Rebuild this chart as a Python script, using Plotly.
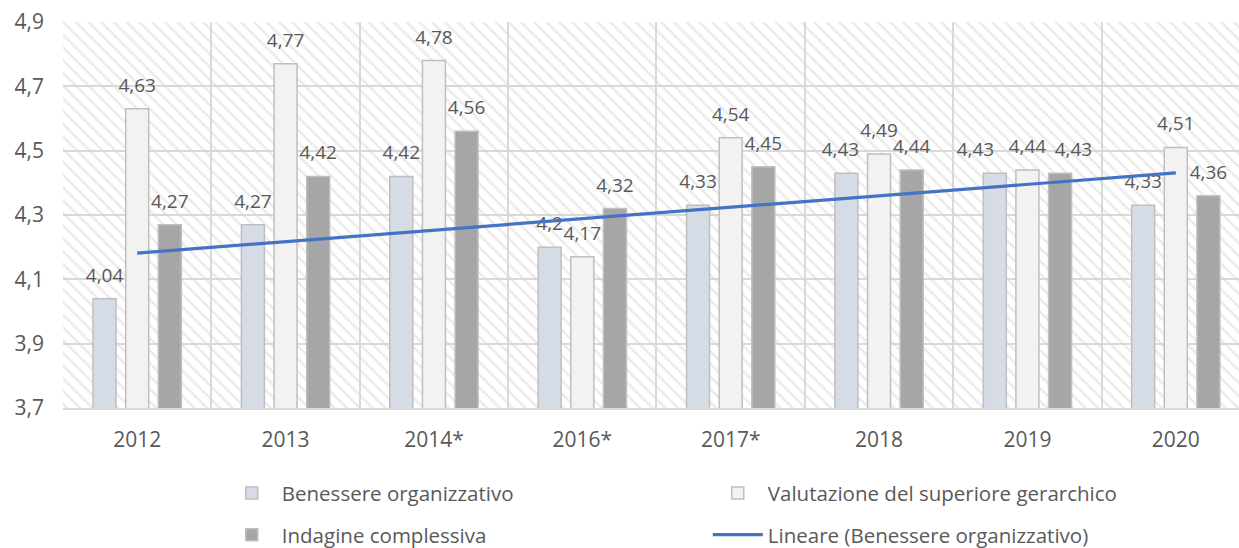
import numpy as np
import plotly.graph_objects as go

# ---------------- data ----------------
years = ["2012", "2013", "2014*", "2016*", "2017*", "2018", "2019", "2020"]
benessere = [4.04, 4.27, 4.42, 4.2, 4.33, 4.43, 4.43, 4.33]
valutazione = [4.63, 4.77, 4.78, 4.17, 4.54, 4.49, 4.44, 4.51]
indagine = [4.27, 4.42, 4.56, 4.32, 4.45, 4.44, 4.43, 4.36]
y_ticks = [3.7, 3.9, 4.1, 4.3, 4.5, 4.7, 4.9]

series_names = ["Benessere organizzativo", "Valutazione del superiore gerarchico", "Indagine complessiva"]
trend_name = "Lineare (Benessere organizzativo)"

# ---------------- style ----------------
FILLS = ["#d6dce5", "#f2f2f2", "#a6a6a6"]
OUTLINE = "#bfbfbf"
TEXT = "#595959"
GRID = "#d9d9d9"
TREND = "#4472c4"
FONT = "Open Sans"
BARGAP = 0.34
GROUPGAP = 0.295
# small horizontal nudges of crowded data labels (series index, category) -> fraction of a category
LABEL_NUDGE = {(0, "2019"): -0.13, (2, "2019"): 0.09, (0, "2018"): -0.04}


def it(v):
    return f"{v:g}".replace(".", ",")


xs = np.arange(len(years))
slot = (1 - BARGAP) / 3
offsets = [-slot, 0.0, slot]

fig = go.Figure()

# hatched plot-area background (on hidden base axes, below the data subplot)
fig.add_trace(go.Scatter(
    x=[0, 1, 1, 0, 0], y=[0, 0, 1, 1, 0], xaxis="x", yaxis="y",
    mode="none", fill="toself", fillcolor="rgba(0,0,0,0)",
    fillpattern=dict(shape="\\", fgcolor="#d6d6d6", bgcolor="rgba(0,0,0,0)", size=9, solidity=0.28),
    hoverinfo="skip", showlegend=False,
))

all_series = [benessere, valutazione, indagine]
legend_of = ["legend", "legend", "legend2"]
for i, vals in enumerate(all_series):
    fig.add_trace(go.Bar(
        x=xs, y=vals, name=series_names[i], xaxis="x2", yaxis="y2",
        marker=dict(color=FILLS[i], line=dict(color=OUTLINE, width=1.5)),
        legend=legend_of[i],
    ))

# data labels
for i, vals in enumerate(all_series):
    lx = [x + offsets[i] + LABEL_NUDGE.get((i, years[k]), 0.0) for k, x in enumerate(xs)]
    fig.add_trace(go.Scatter(
        x=lx, y=vals, xaxis="x2", yaxis="y2",
        mode="markers+text", text=[it(v) for v in vals], textposition="top center",
        textfont=dict(family=FONT, size=19, color=TEXT),
        marker=dict(size=18, color="rgba(0,0,0,0)"),
        showlegend=False, hoverinfo="skip", cliponaxis=False,
    ))

# linear trend of Benessere
coef = np.polyfit(xs, benessere, 1)
trend = np.polyval(coef, xs)
fig.add_trace(go.Scatter(
    x=xs, y=trend, xaxis="x2", yaxis="y2", mode="lines", name=trend_name,
    line=dict(color=TREND, width=3.2), legend="legend2",
))

legend_common = dict(
    orientation="h", xref="container", yref="container", x=0.179,
    xanchor="left", yanchor="middle", entrywidth=421, entrywidthmode="pixels",
    itemwidth=50, font=dict(size=20.5, color=TEXT), bgcolor="rgba(0,0,0,0)",
)

fig.update_layout(
    width=1239, height=548,
    margin=dict(l=63, r=0, t=22, b=140),
    paper_bgcolor="white", plot_bgcolor="white",
    font=dict(family=FONT, color=TEXT, size=20),
    barmode="group", bargap=BARGAP, bargroupgap=GROUPGAP,
    xaxis=dict(range=[0, 1], visible=False, fixedrange=True),
    yaxis=dict(range=[0, 1], visible=False, fixedrange=True),
    xaxis2=dict(
        overlaying="x", anchor="y2", range=[-0.5, 7.426],
        tickmode="array", tickvals=xs, ticktext=years, showgrid=False,
        ticks="", ticklabelstandoff=12, tickfont=dict(size=21, color=TEXT),
        minor=dict(tick0=-0.5, dtick=1, showgrid=True, gridcolor=GRID, gridwidth=1.5),
        showline=True, linecolor=GRID, linewidth=1.5, zeroline=False,
    ),
    yaxis2=dict(
        overlaying="y", anchor="x2", range=[3.7, 4.9],
        tickmode="array", tickvals=y_ticks, ticktext=[it(v) for v in y_ticks],
        showgrid=True, gridcolor=GRID, gridwidth=1.5, zeroline=False,
        ticks="", ticklabelstandoff=18, tickfont=dict(size=21, color=TEXT),
        showline=False,
    ),
    legend=dict(legend_common, y=0.1),
    legend2=dict(legend_common, y=0.024),
    showlegend=True,
)

fig.write_html("out.html")
